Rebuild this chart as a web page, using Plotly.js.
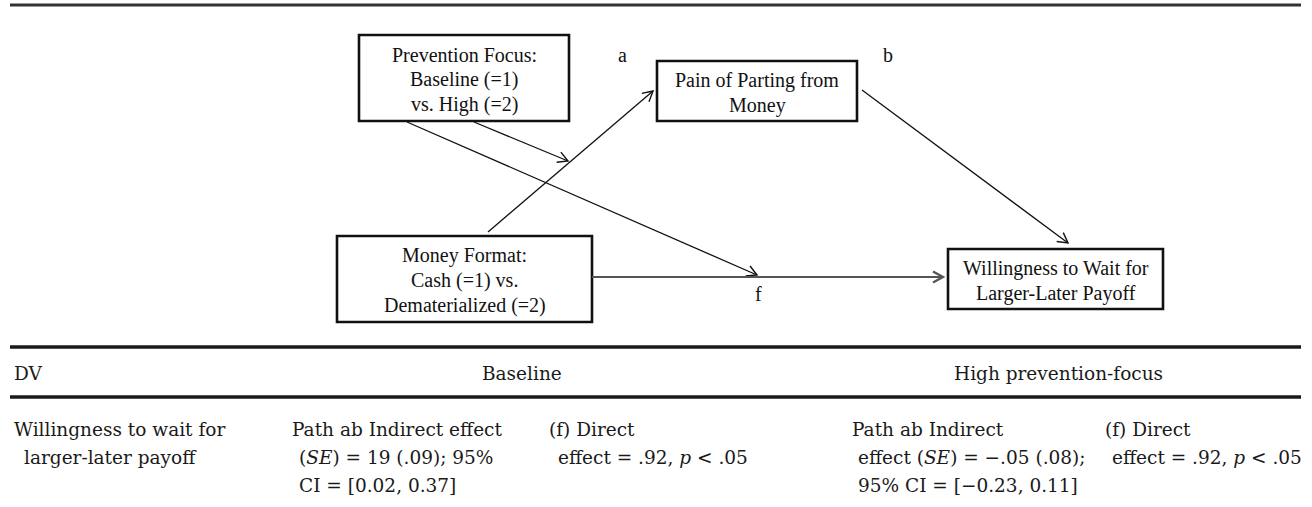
<!DOCTYPE html>
<html>
<head>
<meta charset="utf-8">
<script src="https://cdn.plot.ly/plotly-3.0.1.min.js"></script>
<style>html,body{margin:0;padding:0;background:#fff;}#chart{width:1312px;height:507px;}</style>
</head>
<body>
<div id="chart"></div>
<script>
// ---------- content (text) ----------
const nodeIds = ["prev", "pain", "money", "wait"];
const nodeLines = {
  prev:  ["Prevention Focus:", "Baseline (=1)", "vs. High (=2)"],
  pain:  ["Pain of Parting from", "Money"],
  money: ["Money Format:", "Cash (=1) vs.", "Dematerialized (=2)"],
  wait:  ["Willingness to Wait for", "Larger-Later Payoff"]
};
const pathLabels = ["a", "b", "f"];
const tableHeader = ["DV", "Baseline", "High prevention-focus"];
const tableCol1 = ["Willingness to wait for", "larger-later payoff"];
const tableCol2 = ["Path ab Indirect effect", "(<i>SE</i>) = 19 (.09); 95%", "CI = [0.02, 0.37]"];
const tableCol3 = ["(f) Direct", "effect = .92, <i>p</i> &lt; .05"];
const tableCol4 = ["Path ab Indirect", "effect (<i>SE</i>) = \u2212.05 (.08);", "95% CI = [\u22120.23, 0.11]"];
const tableCol5 = ["(f) Direct", "effect = .92, <i>p</i> &lt; .05"];

// ---------- layout geometry (pixels) ----------
const W = 1312, H = 507;
const boxGeom = {
  prev:  {x0: 359, x1: 569, y0: 35,  y1: 121},
  pain:  {x0: 657, x1: 857, y0: 61,  y1: 121},
  money: {x0: 337, x1: 592, y0: 236, y1: 322},
  wait:  {x0: 948, x1: 1163, y0: 249, y1: 309}
};
const arrowGeom = [
  {x0: 488, y0: 232, x1: 653, y1: 91,  color: "#111", w: 1.3},
  {x0: 474, y0: 122, x1: 568, y1: 161, color: "#111", w: 1.3},
  {x0: 407, y0: 122, x1: 757, y1: 275, color: "#111", w: 1.3},
  {x0: 592, y0: 277, x1: 943, y1: 277, color: "#555", w: 2.2},
  {x0: 862, y0: 90,  x1: 1068, y1: 243, color: "#111", w: 1.3}
];
const labelPos = [{x: 622, y: 55}, {x: 888, y: 55}, {x: 758, y: 294}];
const rules = [{y: 5, w: 3.2, c: "#333"}, {y: 347, w: 3.5, c: "#1a1a1a"}, {y: 397, w: 3.5, c: "#1a1a1a"}];
const ruleX = [10, 1301];
const headerY = 373;
const rowY = [429, 457, 485];
const colX = [[12, 22], [290, 297], [547, 556], [850, 856], [1103, 1110]];
const headerX = [12, 522, 1058];

const diagFont = {family: "Liberation Serif, Times New Roman, serif", size: 20, color: "#111"};
const tabFont = {family: "DejaVu Serif, serif", size: 18.5, color: "#1a1a1a"};

const shapes = [];
const annotations = [];

// rules
rules.forEach(r => shapes.push({type: "line", xref: "x", yref: "y", x0: ruleX[0], x1: ruleX[1], y0: r.y, y1: r.y,
  line: {color: r.c, width: r.w}}));

// boxes and box text
nodeIds.forEach(id => {
  const g = boxGeom[id];
  shapes.push({type: "rect", xref: "x", yref: "y", x0: g.x0, x1: g.x1, y0: g.y0, y1: g.y1,
    line: {color: "#111", width: 2.6}, fillcolor: "rgba(0,0,0,0)"});
  const lines = nodeLines[id];
  const cx = (g.x0 + g.x1) / 2, cy = (g.y0 + g.y1) / 2 + 1.5;
  const sp = 25;
  lines.forEach((t, i) => {
    annotations.push({xref: "x", yref: "y", x: cx, y: cy + (i - (lines.length - 1) / 2) * sp,
      text: t, showarrow: false, xanchor: "center", yanchor: "middle", font: diagFont});
  });
});

// arrows: shaft + open V head
arrowGeom.forEach(a => {
  shapes.push({type: "line", xref: "x", yref: "y", x0: a.x0, y0: a.y0, x1: a.x1, y1: a.y1,
    line: {color: a.color, width: a.w}});
  const dx = a.x1 - a.x0, dy = a.y1 - a.y0, L = Math.hypot(dx, dy);
  const ux = dx / L, uy = dy / L, px = -uy, py = ux;
  const hl = 10, hw = 5.5;
  const bx = a.x1 - hl * ux, by = a.y1 - hl * uy;
  const path = `M${bx + hw * px},${by + hw * py} L${a.x1},${a.y1} L${bx - hw * px},${by - hw * py}`;
  shapes.push({type: "path", xref: "x", yref: "y", path: path, line: {color: a.color, width: a.w + 0.1}});
});

// path labels
pathLabels.forEach((t, i) => annotations.push({xref: "x", yref: "y", x: labelPos[i].x, y: labelPos[i].y,
  text: t, showarrow: false, xanchor: "center", yanchor: "middle", font: diagFont}));

// table header
tableHeader.forEach((t, i) => annotations.push({xref: "x", yref: "y", x: headerX[i], y: headerY, text: t,
  showarrow: false, xanchor: i === 0 ? "left" : "center", yanchor: "middle", font: tabFont}));

// table body
[tableCol1, tableCol2, tableCol3, tableCol4, tableCol5].forEach((col, c) => {
  col.forEach((t, r) => annotations.push({xref: "x", yref: "y", x: colX[c][r === 0 ? 0 : 1], y: rowY[r], text: t,
    showarrow: false, xanchor: "left", yanchor: "middle", font: tabFont}));
});

const layout = {
  width: W, height: H,
  margin: {l: 0, r: 0, t: 0, b: 0, pad: 0},
  paper_bgcolor: "#fff", plot_bgcolor: "#fff",
  xaxis: {range: [0, W], visible: false, fixedrange: true},
  yaxis: {range: [H, 0], visible: false, fixedrange: true},
  showlegend: false,
  shapes: shapes,
  annotations: annotations
};
Plotly.newPlot("chart", [{x: [], y: [], type: "scatter", mode: "markers", hoverinfo: "skip"}], layout,
  {displayModeBar: false, staticPlot: true});
</script>
</body>
</html>
